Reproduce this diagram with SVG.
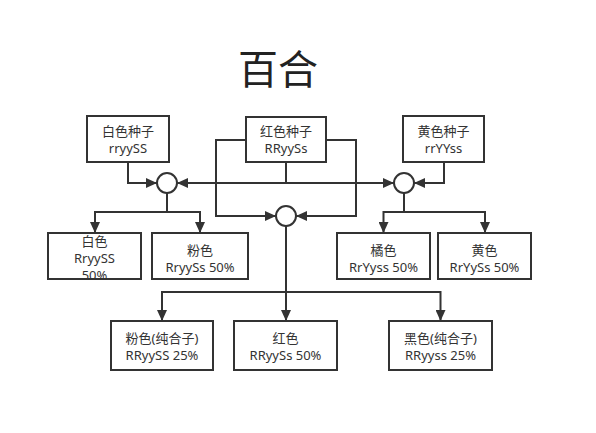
<svg xmlns="http://www.w3.org/2000/svg" width="596" height="433" viewBox="0 0 596 433">
<defs>
<style>
.box{fill:#fff;stroke:#333;stroke-width:2}
.circ{fill:#fff;stroke:#333;stroke-width:2}
.ln{fill:none;stroke:#333;stroke-width:2}
.t{font-family:"Noto Sans","Noto Sans CJK SC",sans-serif;font-size:13px;fill:#333;text-anchor:middle}
.title{font-family:"Noto Sans CJK SC",sans-serif;font-size:40px;fill:#222;text-anchor:middle}
</style>
<marker id="arr" markerUnits="userSpaceOnUse" markerWidth="11" markerHeight="10" refX="11" refY="5" orient="auto">
<path d="M0,0 L11,5 L0,10 z" fill="#333"/>
</marker>
</defs>
<rect width="596" height="433" fill="#fff"/>
<text class="title" x="278" y="84">百合</text>
<g id="connectors">
<path class="ln" d="M128,162 V183 H157" marker-end="url(#arr)"/>
<path class="ln" d="M286,162 V183 H177" marker-end="url(#arr)"/>
<path class="ln" d="M286,183 H394" marker-end="url(#arr)"/>
<path class="ln" d="M444,162 V183 H414" marker-end="url(#arr)"/>
<path class="ln" d="M246,140 H216 V216 H276" marker-end="url(#arr)"/>
<path class="ln" d="M326,140 H356 V216 H296" marker-end="url(#arr)"/>
<path class="ln" d="M167,193 V212 H95 V233" marker-end="url(#arr)"/>
<path class="ln" d="M167,212 H200 V233" marker-end="url(#arr)"/>
<path class="ln" d="M404,193 V212 H383.5 V233" marker-end="url(#arr)"/>
<path class="ln" d="M404,212 H485 V233" marker-end="url(#arr)"/>
<path class="ln" d="M286,226 V292 H162 V321" marker-end="url(#arr)"/>
<path class="ln" d="M286,292 V321" marker-end="url(#arr)"/>
<path class="ln" d="M286,292 H440.5 V321" marker-end="url(#arr)"/>
</g>
<g id="white-seed"><rect class="box" x="87" y="116" width="82" height="46"/><text class="t" x="128" y="136">白色种子</text><text class="t" x="128" y="153">rryySS</text></g>
<g id="red-seed"><rect class="box" x="246" y="117" width="80" height="45"/><text class="t" x="286" y="136">红色种子</text><text class="t" x="286" y="153">RRyySs</text></g>
<g id="yellow-seed"><rect class="box" x="403" y="116" width="81" height="46"/><text class="t" x="443.5" y="136">黄色种子</text><text class="t" x="443.5" y="153">rrYYss</text></g>
<g id="cross-left"><circle class="circ" cx="167" cy="183" r="10"/></g>
<g id="cross-right"><circle class="circ" cx="404" cy="183" r="10"/></g>
<g id="cross-center"><circle class="circ" cx="286" cy="216" r="10"/></g>
<g id="white"><rect class="box" x="48" y="233" width="93" height="46"/><text class="t" x="94.5" y="246">白色</text><text class="t" x="94.5" y="263">RryySS</text><text class="t" x="94.5" y="280">50%</text></g>
<g id="pink"><rect class="box" x="152" y="233" width="96" height="46"/><text class="t" x="200" y="255">粉色</text><text class="t" x="200" y="272">RryySs 50%</text></g>
<g id="orange"><rect class="box" x="337" y="233" width="93" height="46"/><text class="t" x="383.5" y="255">橘色</text><text class="t" x="383.5" y="272">RrYyss 50%</text></g>
<g id="yellow"><rect class="box" x="438" y="233" width="93" height="46"/><text class="t" x="484.5" y="255">黄色</text><text class="t" x="484.5" y="272">RrYySs 50%</text></g>
<g id="pink-pure"><rect class="box" x="111" y="321" width="102" height="49"/><text class="t" x="162" y="343">粉色(纯合子)</text><text class="t" x="162" y="360">RRyySS 25%</text></g>
<g id="red"><rect class="box" x="234" y="321" width="103" height="49"/><text class="t" x="285.5" y="343">红色</text><text class="t" x="285.5" y="360">RRyySs 50%</text></g>
<g id="black-pure"><rect class="box" x="389" y="321" width="103" height="49"/><text class="t" x="440.5" y="343">黑色(纯合子)</text><text class="t" x="440.5" y="360">RRyyss 25%</text></g>
</svg>
